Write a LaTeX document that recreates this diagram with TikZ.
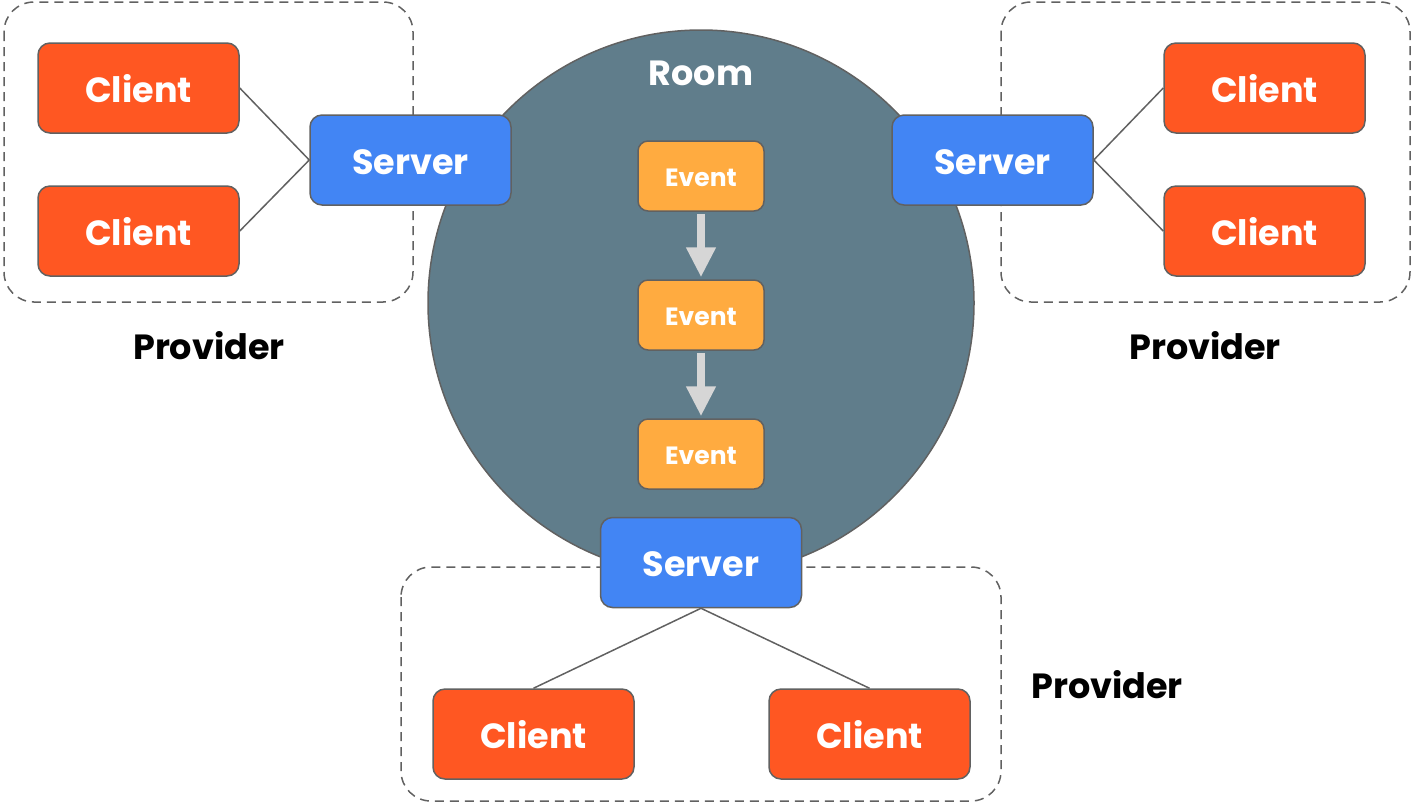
\documentclass[tikz,border=0pt]{standalone}
\usepackage{fontspec}
\setmainfont{Poppins}
\usetikzlibrary{arrows.meta}
\definecolor{clientc}{HTML}{FF5722}
\definecolor{serverc}{HTML}{4285F4}
\definecolor{roomc}{HTML}{607D8B}
\definecolor{eventc}{HTML}{FFAB40}
\definecolor{edgec}{HTML}{616161}
\definecolor{arrowc}{HTML}{D6D6D6}
\begin{document}
\begin{tikzpicture}[x=0.5pt,y=-0.5pt,
  box/.style={draw=edgec, line width=0.75pt, rounded corners=6pt, text=white,
    font=\fontsize{17.5}{20}\selectfont\bfseries, text height=14.2pt, text depth=0pt,
    minimum width=100.5pt, minimum height=45pt, inner sep=0pt},
  client/.style={box, fill=clientc},
  server/.style={box, fill=serverc},
  event/.style={draw=edgec, line width=0.75pt, rounded corners=5pt, fill=eventc, text=white,
    font=\fontsize{12.5}{14}\selectfont\bfseries, text height=10pt, text depth=0pt,
    minimum width=63pt, minimum height=35pt, inner sep=0pt},
  group/.style={draw=edgec, line width=0.75pt, dash pattern=on 4.5pt off 3pt, rounded corners=15pt},
  link/.style={draw=edgec, line width=0.75pt},
  flow/.style={draw=arrowc, line width=3.8pt, -{Triangle[width=14pt,length=15pt]}},
  label/.style={font=\fontsize{17.5}{20}\selectfont\bfseries, text=black}
]
\useasboundingbox (0,0) rectangle (1413,805);
% provider groups
\draw[group] (4,2) rectangle (413,302);
\draw[group] (1001,2) rectangle (1410,302);
\draw[group] (401,567) rectangle (1001,801);
% room
\node[circle, draw=edgec, line width=0.75pt, fill=roomc, minimum size=273pt, inner sep=0pt] (room) at (701,303) {};
\node[font=\fontsize{17.5}{20}\selectfont\bfseries, text=white, text height=14.2pt, text depth=0pt, inner sep=0pt] (roomlabel) at (701,71) {Room};
% events
\node[event] (e1) at (701,176) {Event};
\node[event] (e2) at (701,315) {Event};
\node[event] (e3) at (701,454) {Event};
\draw[flow, shorten <=1pt, shorten >=1pt] (e1.south) -- (e2.north);
\draw[flow, shorten <=1pt, shorten >=1pt] (e2.south) -- (e3.north);
% left provider
\node[client] (c1) at (138.5,88) {Client};
\node[client] (c2) at (138.5,231) {Client};
\node[server] (s1) at (410.5,160) {Server};
\draw[link] (c1.east) -- (s1.west);
\draw[link] (c2.east) -- (s1.west);
\node[label] (p1) at (209,346) {Provider};
% right provider
\node[client] (c3) at (1264.5,88) {Client};
\node[client] (c4) at (1264.5,231) {Client};
\node[server] (s2) at (992.5,160) {Server};
\draw[link] (c3.west) -- (s2.east);
\draw[link] (c4.west) -- (s2.east);
\node[label] (p2) at (1205,346) {Provider};
% bottom provider
\node[server] (s3) at (701,562.5) {Server};
\node[client] (c5) at (533.5,734) {Client};
\node[client] (c6) at (869.5,734) {Client};
\draw[link] (s3.south) -- (c5.north);
\draw[link] (s3.south) -- (c6.north);
\node[label] (p3) at (1107,685) {Provider};
\end{tikzpicture}
\end{document}
